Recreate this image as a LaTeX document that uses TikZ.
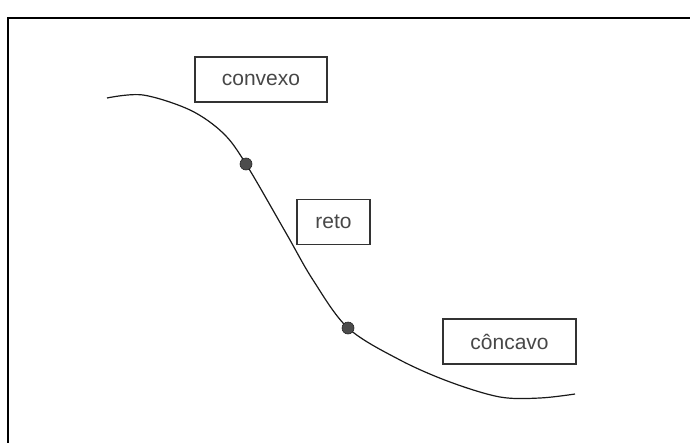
\documentclass[tikz,border=0pt]{standalone}
\usepackage{fontspec}
\setmainfont{Liberation Sans}
\begin{document}
\begin{tikzpicture}[x=1pt,y=-1pt,
  labelbox/.style={draw=black!80, line width=1.3pt, minimum width=#1, minimum height=45pt, inner sep=0pt, text=black!72},
  labeltext/.style={font=\fontsize{21}{24}\selectfont},
  knot/.style={circle, fill=black!70, draw=black!85, line width=0.6pt, minimum size=12pt, inner sep=0pt}]
\useasboundingbox (0,0) rectangle (690,442);
% frame (right and bottom sides fall outside the picture)
\draw[line width=2pt] (8,446) -- (8,18) -- (694,18);
% labels
\node[labelbox=132pt, labeltext] (convexo) at (261,79.5) {convexo};
\node[labelbox=73pt, labeltext]  (reto)    at (333.5,222) {reto};
\node[labelbox=133pt, labeltext] (concavo) at (509.5,341.5) {côncavo};
% curve
\draw[line width=1.2pt, black!90] plot[smooth, tension=0.55] coordinates {
  (107,98) (143,95) (190,110) (223,133) (246,164) (286,233) (313,280)
  (348,328) (400,360) (450,382) (500,397) (540,398) (575,394)};
% inflection points
\node[knot] (p1) at (246,164) {};
\node[knot] (p2) at (348,328) {};
\end{tikzpicture}
\end{document}
